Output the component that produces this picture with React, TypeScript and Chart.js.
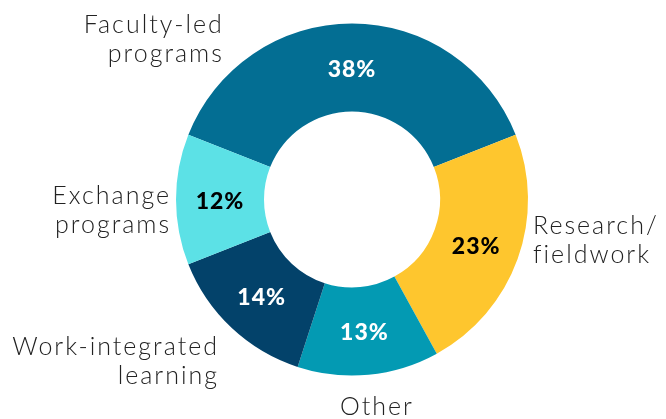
import React, { useEffect, useRef } from "react";
import { Chart, registerables } from "chart.js";

Chart.register(...registerables);

const categories = ["Faculty-led programs", "Research/ fieldwork", "Other", "Work-integrated learning", "Exchange programs"];
const labelLines = [["Faculty-led", "programs"], ["Research/", "fieldwork"], ["Other"], ["Work-integrated", "learning"], ["Exchange", "programs"]];
const shares = [38, 23, 13, 14, 12];
const colors = ["#036E93", "#FEC62E", "#039AB3", "#03426A", "#5CE1E6"];
const valueColors = ["#FFFFFF", "#000000", "#FFFFFF", "#FFFFFF", "#000000"];
// outer label layout: clock angle (deg), distance as fraction of outer radius, text alignment
const labelAngles = [-39.2, 102.6, 173.4, 219.9, 266.7];
const labelRadii = [1.17, 1.054, 1.187, 1.196, 1.041];
const labelAligns = ["right", "left", "center", "right", "right"];

const FONT = "Lato, 'Open Sans', sans-serif";

const labelPlugin = {
  id: "labelPlugin",
  afterDatasetsDraw(chart: any) {
    const ctx = chart.ctx;
    const meta = chart.getDatasetMeta(0);
    ctx.save();
    meta.data.forEach((arc: any, i: number) => {
      const p = arc.getProps(["x", "y", "startAngle", "endAngle", "innerRadius", "outerRadius"], true);
      const mid = (p.startAngle + p.endAngle) / 2;
      const r = (p.innerRadius + p.outerRadius) / 2;
      ctx.font = `900 23px ${FONT}`;
      (ctx as any).letterSpacing = "1px";
      ctx.fillStyle = valueColors[i];
      ctx.textAlign = "center";
      ctx.textBaseline = "middle";
      ctx.fillText(`${shares[i]}%`, p.x + Math.cos(mid) * r, p.y + Math.sin(mid) * r + 2);

      const a = (labelAngles[i] * Math.PI) / 180;
      const R = p.outerRadius * labelRadii[i];
      const lx = p.x + Math.sin(a) * R;
      const ly = p.y - Math.cos(a) * R;
      const lines = labelLines[i];
      const lh = 29;
      ctx.font = `300 25px ${FONT}`;
      (ctx as any).letterSpacing = "2px";
      ctx.fillStyle = "#222222";
      ctx.textAlign = labelAligns[i];
      const y0 = ly - ((lines.length - 1) * lh) / 2;
      const dx = labelAligns[i] === "right" ? 2 : labelAligns[i] === "center" ? 1 : 0;
      lines.forEach((t: string, k: number) => ctx.fillText(t, lx + dx, y0 + k * lh));
    });
    ctx.restore();
  },
};

export default function App() {
  const ref = useRef<HTMLCanvasElement | null>(null);
  useEffect(() => {
    document.body.style.margin = "0";
    const chart = new Chart(ref.current as HTMLCanvasElement, {
      type: "doughnut",
      data: {
        labels: categories,
        datasets: [
          {
            data: shares,
            backgroundColor: colors,
            borderWidth: 0,
          },
        ],
      },
      options: {
        animation: false,
        responsive: true,
        maintainAspectRatio: false,
        cutout: "50%",
        rotation: -68.4,
        layout: { padding: { left: 176, right: 138, top: 23.5, bottom: 43.5 } },
        plugins: { legend: { display: false }, tooltip: { enabled: false } },
      },
      plugins: [labelPlugin],
    } as any);
    return () => chart.destroy();
  }, []);
  return (
    <div style={{ position: "absolute", left: 0, top: 0, width: 666, height: 419 }}>
      <canvas ref={ref} />
    </div>
  );
}
